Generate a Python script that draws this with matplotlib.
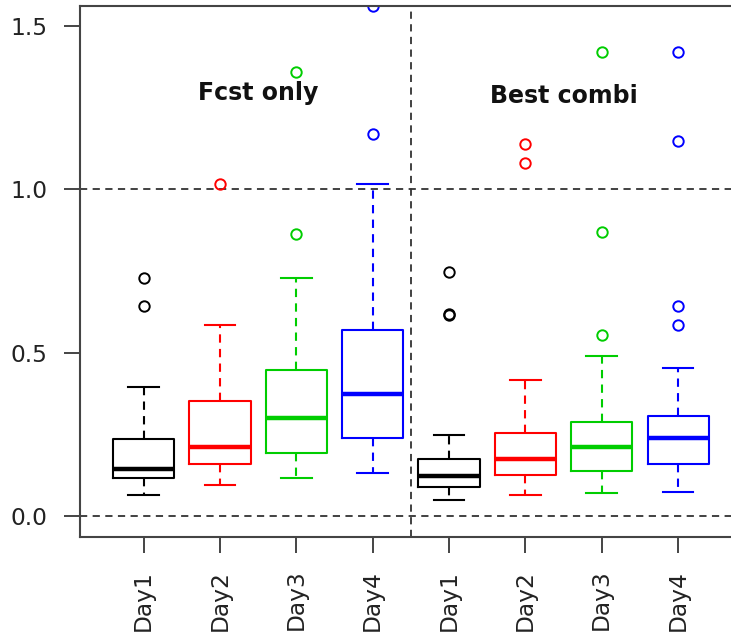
import numpy as np
import matplotlib
import matplotlib.pyplot as plt

matplotlib.use("Agg")

# summary stats (R style boxplot)
labels = ["Day1", "Day2", "Day3", "Day4", "Day1", "Day2", "Day3", "Day4"]
colors = ["black", "red", "#00CD00", "blue"] * 2
group_names = ["Fcst only", "Best combi"]

whis_lo = [0.063, 0.095, 0.115, 0.133, 0.048, 0.063, 0.069, 0.074]
q1 = [0.115, 0.160, 0.194, 0.238, 0.089, 0.127, 0.137, 0.160]
med = [0.143, 0.211, 0.301, 0.374, 0.121, 0.173, 0.212, 0.238]
q3 = [0.236, 0.352, 0.447, 0.568, 0.173, 0.253, 0.289, 0.305]
whis_hi = [0.394, 0.585, 0.727, 1.017, 0.248, 0.417, 0.489, 0.452]
outliers = [
    [0.644, 0.727],
    [1.017],
    [0.863, 1.360],
    [1.169, 1.560],
    [0.614, 0.619, 0.748],
    [1.080, 1.138],
    [0.554, 0.868, 1.421],
    [0.585, 0.644, 1.148, 1.421],
]

stats = []
for i in range(len(labels)):
    stats.append({"whislo": whis_lo[i], "q1": q1[i], "med": med[i],
                  "q3": q3[i], "whishi": whis_hi[i], "fliers": outliers[i]})

fig = plt.figure(figsize=(7.31, 6.39), dpi=100)
# the plot is cropped on the right: the frame runs past the figure edge
ax = fig.add_axes([0.1094, 0.1596, 0.95, 0.831])

positions = np.arange(1, len(labels) + 1)
dash = (0, (4, 3))

for i, s in enumerate(stats):
    c = colors[i]
    ax.bxp([s], positions=[positions[i]], widths=0.8,
           boxprops=dict(color=c, linewidth=1.5),
           medianprops=dict(color=c, linewidth=3.2, solid_capstyle="butt"),
           whiskerprops=dict(color=c, linewidth=1.5, linestyle=dash),
           capprops=dict(color=c, linewidth=1.5),
           capwidths=0.4,
           flierprops=dict(marker="o", markerfacecolor="none",
                           markeredgecolor=c, markersize=7.5,
                           markeredgewidth=1.4),
           manage_ticks=False)

ax.axhline(0.0, color="#333333", linewidth=1.3, linestyle=dash, zorder=0)
ax.axhline(1.0, color="#333333", linewidth=1.3, linestyle=dash, zorder=0)
ax.axvline(4.5, color="#333333", linewidth=1.3, linestyle=dash, zorder=0)

ax.text(2.5, 1.272, group_names[0], ha="center", va="baseline",
        fontsize=17, fontweight="bold", color="#111111")
ax.text(6.5, 1.264, group_names[1], ha="center", va="baseline",
        fontsize=17, fontweight="bold", color="#111111")

ax.set_xlim(0.1665, 9.262)
ax.set_ylim(-0.0643, 1.561)

ax.set_xticks(positions)
ax.set_xticklabels(labels, rotation=90)
ax.set_yticks([0.0, 0.5, 1.0, 1.5])
ax.set_yticklabels(["0.0", "0.5", "1.0", "1.5"])
ax.tick_params(axis="both", direction="out", length=11.5, width=1.4,
               color="#444444", labelsize=16.8, labelcolor="#222222")
ax.tick_params(axis="y", pad=12)
ax.tick_params(axis="x", pad=12)

for sp in ax.spines.values():
    sp.set_color("#444444")
    sp.set_linewidth(1.5)
ax.spines["right"].set_visible(False)

fig.savefig("out.png", dpi=100)
